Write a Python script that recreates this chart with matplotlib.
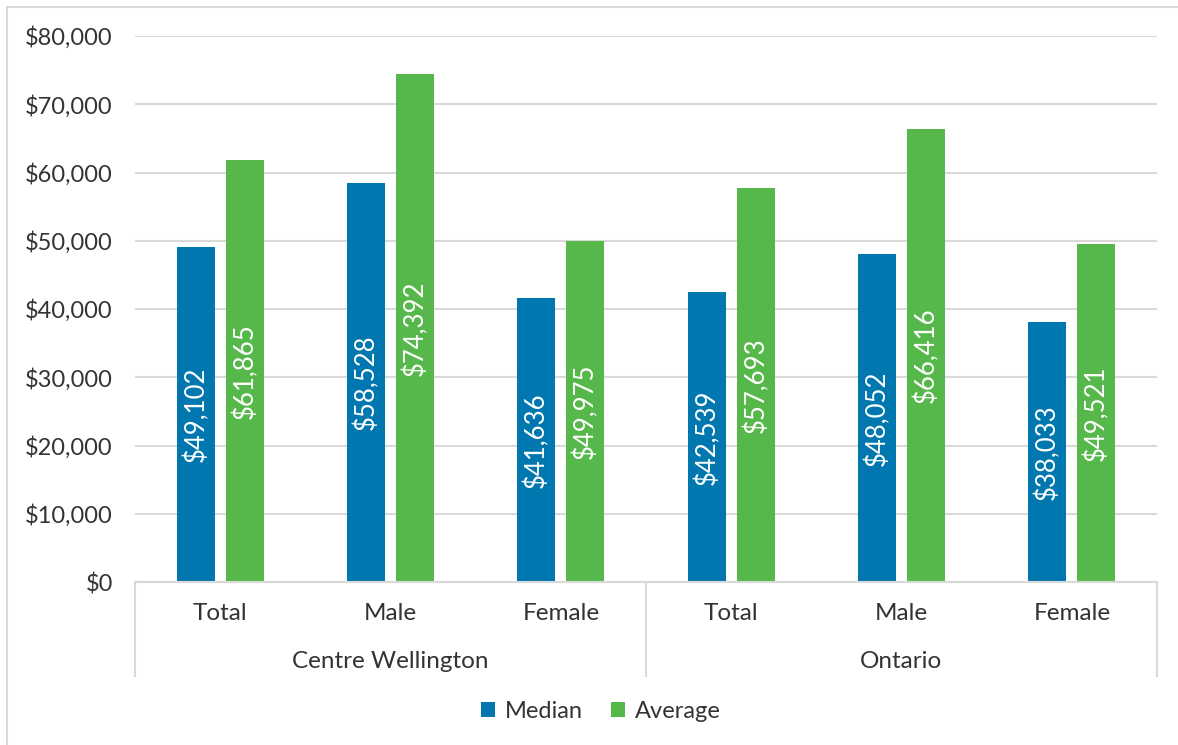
import matplotlib
matplotlib.use("Agg")
import matplotlib.pyplot as plt
from matplotlib.patches import Rectangle, Patch
from matplotlib.lines import Line2D

groups = ["Centre Wellington", "Ontario"]
subcats = ["Total", "Male", "Female"]
median = [49102, 58528, 41636, 42539, 48052, 38033]
average = [61865, 74392, 49975, 57693, 66416, 49521]
yticks = [0, 10000, 20000, 30000, 40000, 50000, 60000, 70000, 80000]

BLUE = "#0077AE"
GREEN = "#56B84B"
GRID = "#D9D9D9"
TXT = "#333333"
FONT = ["Lato", "DejaVu Sans"]

plt.rcParams['font.family'] = FONT

fig = plt.figure(figsize=(11.78, 7.45), dpi=100)
fig.patches.append(Rectangle((7/1178, -0.01), 1.1, 1 - 7/745 + 0.01, transform=fig.transFigure,
                             fill=False, edgecolor=GRID, linewidth=1.5))
ax = fig.add_axes([135/1178, 1 - 582/745, (1157-135)/1178, (582-36)/745])

n = len(median)
xs = [i + 0.5 for i in range(n)]
w = 0.223
off = 0.144
bm = ax.bar([x - off for x in xs], median, width=w, color=BLUE, zorder=3)
ba = ax.bar([x + off for x in xs], average, width=w, color=GREEN, zorder=3)

for rect, v in list(zip(bm, median)) + list(zip(ba, average)):
    ax.text(rect.get_x() + rect.get_width()/2, v/2, f"${v:,}", rotation=90,
            ha="center", va="center", color="white", fontsize=18.5, fontweight="normal", zorder=4)

ax.set_xlim(0, n)
ax.set_ylim(0, 80000)
ax.set_yticks(yticks)
ax.set_yticklabels([f"${t:,}" for t in yticks], fontsize=17, color=TXT, fontweight="normal")
ax.tick_params(axis="y", length=0, pad=16)
ax.tick_params(axis="x", length=0)
ax.set_xticks([])
ax.grid(axis="y", color=GRID, linewidth=1.5, zorder=0)
for s in ax.spines.values():
    s.set_visible(False)
ax.axhline(0, color=GRID, linewidth=1.5, zorder=5, clip_on=False)

# category labels
for i, x in enumerate(xs):
    ax.text(x, -0.057, subcats[i % 3], transform=ax.get_xaxis_transform(), ha="center", va="center",
            fontsize=17.5, color=TXT, fontweight="normal")
for g, name in enumerate(groups):
    ax.text(g*3 + 1.5, -0.145, name, transform=ax.get_xaxis_transform(), ha="center", va="center",
            fontsize=17.5, color=TXT, fontweight="normal")
for xb in [0, 3, 6]:
    ax.add_line(Line2D([xb, xb], [0, -0.172], transform=ax.get_xaxis_transform(),
                       color=GRID, linewidth=1.5, clip_on=False))

handles = [Patch(facecolor=BLUE, label="Median"), Patch(facecolor=GREEN, label="Average")]
leg = fig.legend(handles=handles, loc="center", bbox_to_anchor=(0.51, 0.045), ncol=2, frameon=False,
                 fontsize=17, handlelength=0.6, handleheight=0.6, handletextpad=0.4, columnspacing=1.2)
for t in leg.get_texts():
    t.set_color(TXT)

fig.savefig("out.png", dpi=100)
